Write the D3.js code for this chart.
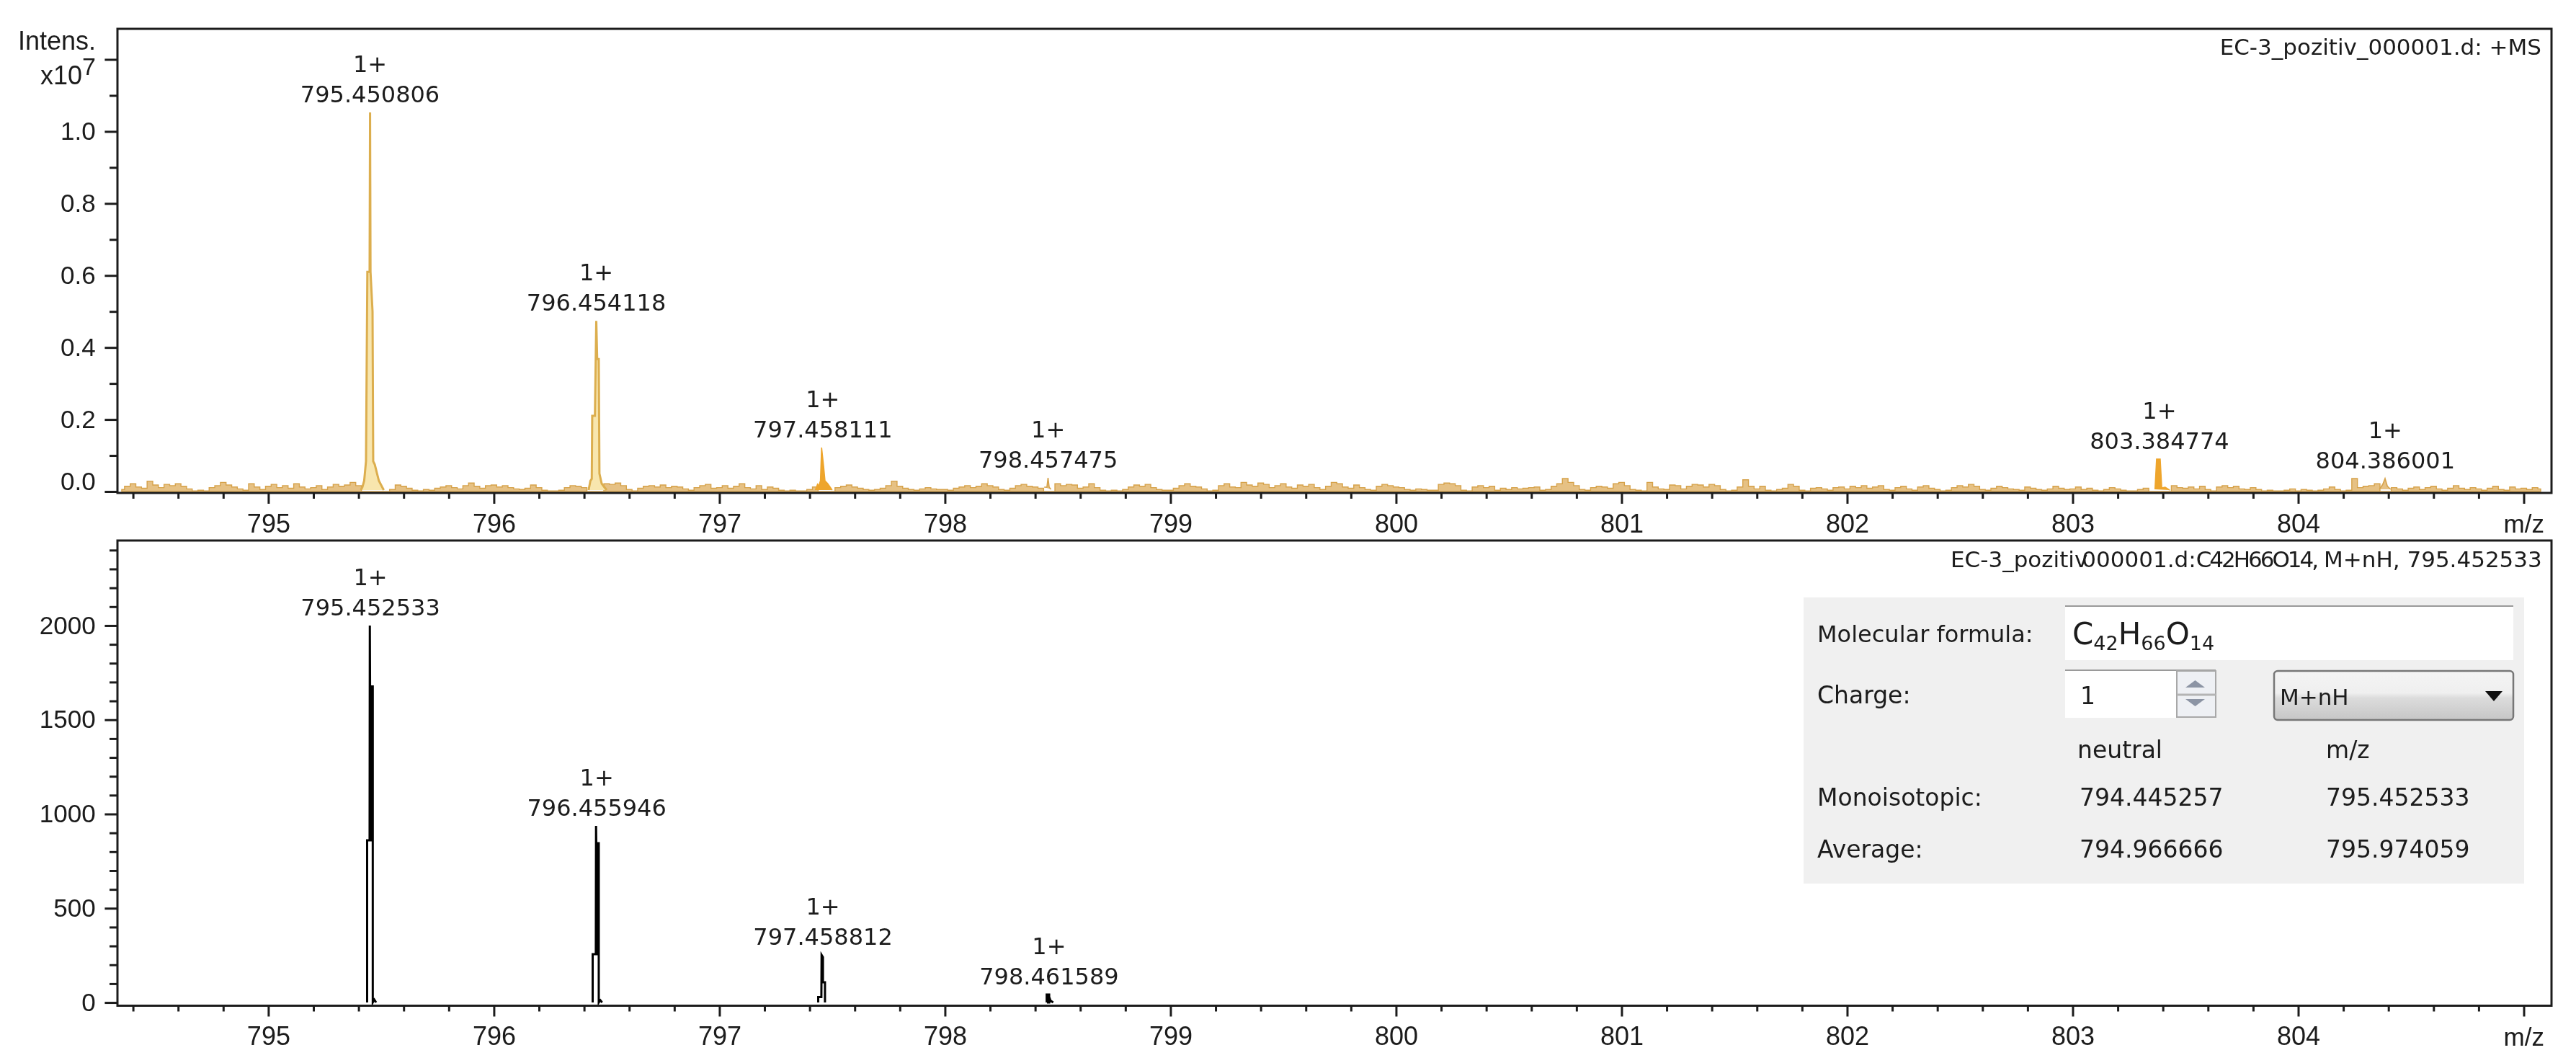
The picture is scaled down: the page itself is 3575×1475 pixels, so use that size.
<!DOCTYPE html>
<html>
<head>
<meta charset="utf-8">
<script src="https://cdn.jsdelivr.net/npm/d3@7"></script>
<style>
  html, body { margin: 0; padding: 0; background: #fff; }
  svg { display: block; filter: blur(0.7px); }
  text { fill: #1c1c1c; }
  .axis text { font-family: "Liberation Sans", Arial, sans-serif; }
  .axis line, .axis path { stroke: #1c1c1c; }
  .tahoma { font-family: "DejaVu Sans", sans-serif; }
</style>
</head>
<body>
<svg id="chart" width="3575" height="1475"></svg>
<script>
// m/z axis
const XMAJOR = [795, 796, 797, 798, 799, 800, 801, 802, 803, 804, 805];
const XMINOR = [794.4, 794.6, 794.8, 795.2, 795.4, 795.6, 795.8, 796.2, 796.4, 796.6, 796.8,
                797.2, 797.4, 797.6, 797.8, 798.2, 798.4, 798.6, 798.8, 799.2, 799.4, 799.6, 799.8,
                800.2, 800.4, 800.6, 800.8, 801.2, 801.4, 801.6, 801.8, 802.2, 802.4, 802.6, 802.8,
                803.2, 803.4, 803.6, 803.8, 804.2, 804.4, 804.6, 804.8];

// measured spectrum, intensity in 1e7
const MS_Y_MAJOR = [0, 0.2, 0.4, 0.6, 0.8, 1.0, 1.2];
const MS_Y_MINOR = [0.1, 0.3, 0.5, 0.7, 0.9, 1.1];
const MS_PEAK_MZ = [795.450806, 796.454118, 797.458111, 798.457475, 803.384774, 804.386001];
const MS_PEAK_LABEL = ["795.450806", "796.454118", "797.458111", "798.457475", "803.384774", "804.386001"];
const MS_PEAK_TOP = [1.053, 0.474, 0.122, 0.038, 0.09, 0.036];

// profile of every measured peak as [m/z, intensity]
const MS_PROFILE_1 = [[795.41, 0.004], [795.417, 0.012], [795.425, 0.03], [795.433, 0.084], [795.439, 0.61], [795.449, 0.61],
                      [795.451, 1.053], [795.453, 0.61], [795.462, 0.5], [795.465, 0.084], [795.472, 0.075],
                      [795.482, 0.05], [795.49, 0.03], [795.505, 0.012], [795.512, 0.004]];
const MS_PROFILE_2 = [[796.42, 0.004], [796.428, 0.03], [796.434, 0.035], [796.436, 0.21], [796.448, 0.21], [796.454, 0.474],
                      [796.458, 0.368], [796.465, 0.368], [796.468, 0.05], [796.478, 0.022], [796.49, 0.012], [796.5, 0.004]];
const MS_PROFILE_3 = [[797.425, 0.004], [797.435, 0.02], [797.44, 0.015], [797.448, 0.03], [797.453, 0.122], [797.462, 0.07],
                      [797.468, 0.03], [797.48, 0.022], [797.5, 0.004]];
const MS_PROFILE_4 = [[798.44, 0.012], [798.452, 0.012], [798.457, 0.038], [798.462, 0.012], [798.47, 0.006]];
const MS_PROFILE_5 = [[803.365, 0.006], [803.372, 0.09], [803.388, 0.09], [803.395, 0.01], [803.41, 0.012], [803.43, 0.004]];
const MS_PROFILE_6 = [[804.36, 0.006], [804.375, 0.02], [804.385, 0.036], [804.395, 0.015], [804.41, 0.006]];

// noise, one value each 0.025 m/z from 794.35, in units of NOISE_UNIT
const NOISE_START = 794.35;
const NOISE_STEP = 0.025;
const NOISE_UNIT = 0.0018;
const NOISE = [
  3, 8, 12, 7, 5, 16, 10, 6, 11, 9, 12, 8, 4, 1, 2, 1, 6, 9, 14, 10, 7, 4, 2, 12, 7, 3,
  8, 11, 6, 9, 5, 12, 7, 4, 6, 9, 3, 7, 11, 8, 10, 14, 9, 0, 0, 0, 0, 0, 3, 10, 8, 5, 2, 1, 3, 2, 5, 7, 9, 6, 4, 9, 13, 8, 5, 9,
  10, 7, 9, 6, 4, 3, 5, 10, 6, 2, 1, 1, 2, 6, 9, 8, 6, 0, 0, 0, 12, 11, 13, 9, 3, 1, 5, 8, 9, 7, 10, 6, 8, 7, 4, 2, 6, 9, 11, 5,
  6, 9, 5, 8, 12, 6, 4, 9, 3, 7, 5, 2, 1, 2, 1, 1, 3, 7, 0, 0, 0, 6, 8, 10, 7, 5, 3, 2, 3, 5, 9, 16, 8, 5, 3, 2, 4, 6, 4, 3,
  3, 2, 5, 7, 9, 6, 8, 12, 9, 7, 3, 2, 5, 9, 11, 8, 7, 5, 0, 0, 12, 9, 11, 10, 5, 7, 12, 6, 2, 1, 2, 1, 3, 7, 10, 8, 11, 6, 3, 2,
  2, 5, 9, 12, 8, 7, 4, 1, 2, 9, 12, 7, 6, 14, 10, 8, 13, 11, 6, 9, 12, 7, 5, 10, 8, 11, 6, 3, 8, 14, 12, 7, 5, 10, 6, 3, 2, 8, 11, 9,
  7, 6, 3, 2, 4, 3, 2, 2, 11, 13, 12, 9, 2, 1, 7, 9, 6, 8, 2, 5, 3, 6, 4, 5, 6, 7, 2, 3, 8, 12, 20, 14, 9, 3, 2, 6, 8, 7, 5, 12,
  14, 9, 3, 2, 1, 14, 7, 4, 3, 10, 9, 4, 8, 11, 10, 7, 11, 9, 3, 1, 2, 7, 18, 8, 4, 8, 2, 1, 3, 5, 11, 8, 2, 1, 5, 6, 4, 2, 6, 7,
  4, 8, 6, 9, 5, 7, 9, 3, 2, 6, 8, 4, 2, 7, 9, 5, 3, 1, 2, 6, 9, 7, 11, 8, 3, 2, 5, 8, 6, 4, 3, 2, 7, 5, 3, 2, 4, 8, 5, 3,
  4, 7, 3, 5, 2, 1, 3, 6, 4, 2, 1, 1, 3, 5, 0, 0, 0, 0, 9, 6, 5, 7, 4, 8, 3, 1, 7, 9, 6, 8, 4, 3, 6, 3, 1, 2, 1, 1, 2, 4,
  1, 3, 2, 1, 2, 4, 7, 3, 1, 2, 20, 6, 8, 9, 12, 0, 0, 6, 4, 2, 5, 7, 3, 6, 8, 4, 2, 5, 9, 5, 3, 6, 4, 2, 5, 8, 3, 2, 7, 4,
  5, 3, 6, 4
];

// simulated isotope pattern
const SIM_Y_MAJOR = [0, 500, 1000, 1500, 2000];
const SIM_Y_MINOR = [100, 200, 300, 400, 600, 700, 800, 900, 1100, 1200, 1300, 1400, 1600, 1700, 1800, 1900, 2100, 2200, 2300, 2400];
const SIM_PEAK_MZ = [795.452533, 796.455946, 797.458812, 798.461589];
const SIM_PEAK_LABEL = ["795.452533", "796.455946", "797.458812", "798.461589"];
const SIM_PEAK_TOP = [2000, 937, 252, 42];

const SIM_PROFILE_1 = [[795.438, 0], [795.438, 860], [795.449, 860], [795.45, 2000], [795.451, 1677], [795.463, 1677],
                       [795.463, 860], [795.456, 860], [795.456, 1677], [795.463, 1677],
                       [795.463, 0], [795.47, 15], [795.478, 0]];
const SIM_PROFILE_2 = [[796.438, 0], [796.438, 256], [796.452, 256], [796.453, 937], [796.454, 845], [796.465, 845],
                       [796.465, 256], [796.459, 256], [796.459, 845], [796.465, 845],
                       [796.465, 0], [796.472, 12], [796.48, 0]];
const SIM_PROFILE_3 = [[797.438, 0], [797.438, 29], [797.452, 29], [797.453, 252], [797.459, 240], [797.459, 107],
                       [797.468, 107], [797.468, 0]];
const SIM_PROFILE_4 = [[798.451, 0], [798.451, 42], [798.462, 42], [798.462, 0], [798.457, 0], [798.457, 42], [798.462, 42],
                       [798.462, 30], [798.468, 10], [798.48, 0]];

const PLOT_LEFT = 163;
const PLOT_RIGHT = 3541;
const MS_TOP = 40;
const MS_BOTTOM = 684;
const SIM_TOP = 750;
const SIM_BOTTOM = 1395.5;

var svg = d3.select("#chart");
var x = d3.scaleLinear().domain([794.331, 805.123]).range([PLOT_LEFT, PLOT_RIGHT]);

function draw_frame(y, y_major, y_minor, y_format, top, bottom) {
    var g = svg.append("g").attr("class", "axis");
    g.append("rect")
        .attr("x", PLOT_LEFT)
        .attr("y", top)
        .attr("width", PLOT_RIGHT - PLOT_LEFT)
        .attr("height", bottom - top)
        .attr("fill", "none")
        .attr("stroke", "#1c1c1c")
        .attr("stroke-width", 3);

    var x_major = g.append("g")
        .attr("transform", "translate(0," + bottom + ")")
        .call(d3.axisBottom(x).tickValues(XMAJOR).tickSize(15).tickPadding(14.4)
            .tickFormat(function(d) { return d == 805 ? "" : d; }));
    x_major.selectAll("text").style("font-size", "36px");
    x_major.select("path").remove();

    var x_minor = g.append("g")
        .attr("transform", "translate(0," + bottom + ")")
        .call(d3.axisBottom(x).tickValues(XMINOR).tickSize(8).tickFormat(""));
    x_minor.select("path").remove();

    var y_axis = g.append("g")
        .attr("transform", "translate(" + PLOT_LEFT + ",0)")
        .call(d3.axisLeft(y).tickValues(y_major).tickSize(17.6).tickPadding(12.8).tickFormat(y_format));
    y_axis.selectAll("text").style("font-size", "35px");
    y_axis.select("path").remove();

    var y_small = g.append("g")
        .attr("transform", "translate(" + PLOT_LEFT + ",0)")
        .call(d3.axisLeft(y).tickValues(y_minor).tickSize(11).tickFormat(""));
    y_small.select("path").remove();

    g.selectAll("line").attr("stroke-width", 3);

    g.append("text")
        .attr("x", 3531)
        .attr("y", bottom + 55)
        .attr("text-anchor", "end")
        .style("font-size", "35px")
        .text("m/z");
    return y_axis;
}

function draw_peak_labels(y, mz, labels, tops) {
    mz.forEach(function(m, idx) {
        var g = svg.append("g")
            .attr("class", "tahoma")
            .attr("text-anchor", "middle")
            .style("font-size", "32px");
        g.append("text")
            .attr("x", x(m))
            .attr("y", y(tops[idx]) - 56)
            .text("1+");
        g.append("text")
            .attr("x", x(m))
            .attr("y", y(tops[idx]) - 14)
            .text(labels[idx]);
    });
}

function draw_ms() {
    var y = d3.scaleLinear().domain([-0.004, 1.285]).range([MS_BOTTOM, MS_TOP]);

    // noise under everything else
    var noise_area = d3.area()
        .curve(d3.curveStep)
        .x(function(d, i) { return x(NOISE_START + i * NOISE_STEP); })
        .y0(y(0))
        .y1(function(d) { return y(d * NOISE_UNIT); });
    svg.append("path")
        .attr("d", noise_area(NOISE))
        .attr("fill", "#e6c184")
        .attr("stroke", "#d6a24a")
        .attr("stroke-width", 1.4);

    var line = d3.line()
        .x(function(d) { return x(d[0]); })
        .y(function(d) { return y(d[1]); });
    [MS_PROFILE_1, MS_PROFILE_2].forEach(function(p) {
        svg.append("path")
            .attr("d", line(p))
            .attr("fill", "#f8e6ae")
            .attr("stroke", "#dcae4e")
            .attr("stroke-width", 3);
    });
    [MS_PROFILE_3, MS_PROFILE_5].forEach(function(p) {
        svg.append("path")
            .attr("d", line(p))
            .attr("fill", "#eea52c")
            .attr("stroke", "#eea52c")
            .attr("stroke-width", 1.6);
    });
    [MS_PROFILE_4, MS_PROFILE_6].forEach(function(p) {
        svg.append("path")
            .attr("d", line(p))
            .attr("fill", "#e6c184")
            .attr("stroke", "#d6a24a")
            .attr("stroke-width", 1.6);
    });

    var y_axis = draw_frame(y, MS_Y_MAJOR, MS_Y_MINOR, function(d) { return d == 1.2 ? "" : d3.format(".1f")(d); }, MS_TOP, MS_BOTTOM);
    // the software lifts the lowest label off the corner
    y_axis.selectAll(".tick text")
        .filter(function(d) { return d == 0; })
        .attr("y", -14);

    draw_peak_labels(y, MS_PEAK_MZ, MS_PEAK_LABEL, MS_PEAK_TOP);

    svg.append("text")
        .attr("class", "tahoma")
        .attr("x", 3527)
        .attr("y", 76)
        .attr("text-anchor", "end")
        .style("font-size", "31px")
        .text("EC-3_pozitiv_000001.d: +MS");

    var unit = svg.append("g")
        .attr("text-anchor", "end")
        .style("font-family", '"Liberation Sans", Arial, sans-serif')
        .style("font-size", "36px");
    unit.append("text").attr("x", 133).attr("y", 69).text("Intens.");
    var exp = unit.append("text").attr("x", 133).attr("y", 117);
    exp.append("tspan").text("x10");
    exp.append("tspan").attr("dy", -13).style("font-size", "34px").text("7");
}

function draw_sim() {
    var y = d3.scaleLinear().domain([-17, 2451]).range([SIM_BOTTOM, SIM_TOP]);
    var line = d3.line()
        .x(function(d) { return x(d[0]); })
        .y(function(d) { return y(d[1]); });

    [SIM_PROFILE_1, SIM_PROFILE_2, SIM_PROFILE_3, SIM_PROFILE_4].forEach(function(p) {
        svg.append("path")
            .attr("d", line(p))
            .attr("fill", "none")
            .attr("stroke", "#000")
            .attr("stroke-width", 3);
    });

    draw_frame(y, SIM_Y_MAJOR, SIM_Y_MINOR, function(d) { return d; }, SIM_TOP, SIM_BOTTOM);
    draw_peak_labels(y, SIM_PEAK_MZ, SIM_PEAK_LABEL, SIM_PEAK_TOP);

    // the parts of this title overprint each other in the original
    var title = svg.append("text")
        .attr("class", "tahoma")
        .attr("x", 2707)
        .attr("y", 787)
        .style("font-size", "31px");
    title.append("tspan").text("EC-3_pozitiv");
    title.append("tspan").attr("dx", -8).text("000001.d:");
    title.append("tspan").style("letter-spacing", "-3px").text("C42H66O14,");
    title.append("tspan").text(" M+nH, 795.452533");
}

function panel_text(txt, px, py, size) {
    return svg.append("text")
        .attr("class", "tahoma")
        .attr("x", px)
        .attr("y", py)
        .style("font-size", (size || 33) + "px")
        .text(txt);
}

function draw_calculator() {
    var defs = svg.append("defs");
    var combo = defs.append("linearGradient")
        .attr("id", "combo")
        .attr("x1", 0).attr("x2", 0).attr("y1", 0).attr("y2", 1);
    combo.append("stop").attr("offset", 0).attr("stop-color", "#f4f4f4");
    combo.append("stop").attr("offset", 0.45).attr("stop-color", "#efefef");
    combo.append("stop").attr("offset", 0.55).attr("stop-color", "#dcdcdc");
    combo.append("stop").attr("offset", 1).attr("stop-color", "#c6c6c6");

    svg.append("rect").attr("x", 2503).attr("y", 829).attr("width", 1000).attr("height", 397).attr("fill", "#f0f0f0");

    // formula box
    svg.append("rect").attr("x", 2866).attr("y", 841).attr("width", 622).attr("height", 75).attr("fill", "#fff");
    svg.append("line").attr("x1", 2866).attr("x2", 3488).attr("y1", 841).attr("y2", 841).attr("stroke", "#9a9a9a").attr("stroke-width", 2);

    // charge box with spinner
    svg.append("rect").attr("x", 2866).attr("y", 930).attr("width", 209).attr("height", 66).attr("fill", "#fff");
    svg.append("line").attr("x1", 2866).attr("x2", 3075).attr("y1", 930).attr("y2", 930).attr("stroke", "#9a9a9a").attr("stroke-width", 2);
    svg.append("rect").attr("x", 3021).attr("y", 931).attr("width", 54).attr("height", 64).attr("fill", "#eef0f4").attr("stroke", "#a8a8a8").attr("stroke-width", 2);
    svg.append("line").attr("x1", 3021).attr("x2", 3075).attr("y1", 964).attr("y2", 964).attr("stroke", "#b4b4b4").attr("stroke-width", 3);
    svg.append("path").attr("d", "M3033,954L3060,954L3046.5,944Z").attr("fill", "#8c94a4");
    svg.append("path").attr("d", "M3033,970L3060,970L3046.5,980Z").attr("fill", "#8c94a4");

    // ion type combo
    svg.append("rect").attr("x", 3156).attr("y", 931).attr("width", 332).attr("height", 68).attr("rx", 5)
        .attr("fill", "url(#combo)").attr("stroke", "#777").attr("stroke-width", 2.5);
    svg.append("path").attr("d", "M3449,959L3473,959L3461,973Z").attr("fill", "#111");

    panel_text("Molecular formula:", 2522, 891, 32);
    panel_text("Charge:", 2522, 976);
    panel_text("1", 2887, 977);
    panel_text("M+nH", 3164, 978, 31);
    panel_text("neutral", 2883, 1052);
    panel_text("m/z", 3228, 1052);
    panel_text("Monoisotopic:", 2522, 1118);
    panel_text("794.445257", 2886, 1118);
    panel_text("795.452533", 3228, 1118);
    panel_text("Average:", 2522, 1190);
    panel_text("794.966666", 2886, 1190);
    panel_text("795.974059", 3228, 1190);

    var formula = svg.append("text")
        .attr("class", "tahoma")
        .attr("x", 2876)
        .attr("y", 894)
        .style("font-size", "42px");
    formula.append("tspan").text("C");
    formula.append("tspan").attr("dy", 8).style("font-size", "27px").text("42");
    formula.append("tspan").attr("dy", -8).text("H");
    formula.append("tspan").attr("dy", 8).style("font-size", "27px").text("66");
    formula.append("tspan").attr("dy", -8).text("O");
    formula.append("tspan").attr("dy", 8).style("font-size", "27px").text("14");
}

draw_ms();
draw_sim();
draw_calculator();
</script>
</body>
</html>
